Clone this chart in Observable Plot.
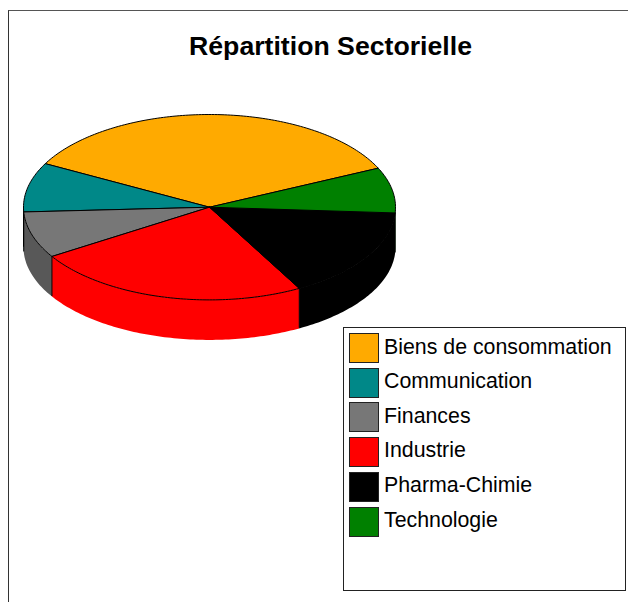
<!DOCTYPE html>
<html><head><meta charset="utf-8">
<script src="https://cdn.jsdelivr.net/npm/d3@7"></script>
<script src="https://cdn.jsdelivr.net/npm/@observablehq/plot@0.6"></script>
<style>
html,body{margin:0;padding:0;background:#fff;overflow:hidden}
#root{position:relative;width:628px;height:602px;overflow:hidden;font-family:"Liberation Sans",Arial,sans-serif;color:#000}
#frame{position:absolute;left:8px;top:10px;right:0;bottom:0;border-left:1px solid #333;border-top:1px solid #555;box-sizing:border-box}
#title{position:absolute;left:20px;width:621px;top:31px;text-align:center;font-size:26.67px;font-weight:bold;line-height:30px;margin:0}
#plot{position:absolute;left:0;top:0}
#legend{position:absolute;left:343px;top:327px;width:283px;height:264px;border:1px solid #222;box-sizing:border-box;background:#fff}
.sw{position:absolute;left:5px;width:30px;height:30px;border:1px solid #222;box-sizing:border-box}
.lb{position:absolute;left:40px;font-size:21.33px;line-height:24px;white-space:nowrap}
</style></head><body>
<div id="root"><div id="frame"></div><div id="plot"></div><h1 id="title">Répartition Sectorielle</h1><div id="legend"></div></div>
<script>
const sectors = ["Biens de consommation","Communication","Finances","Industrie","Pharma-Chimie","Technologie"];
const shares  = [35.3, 8.6, 8.1, 24.1, 16.0, 7.9];
const topColors  = ["#ffaa00","#008888","#777777","#ff0000","#000000","#008000"];
const sideColors = ["#aa7200","#005b5b","#585858","#ff0000","#000000","#005500"];
const startDeg = 24.9;
const depth = 0.4315;

const total = d3.sum(shares);
let acc = startDeg;
const slices = sectors.map((name,i)=>{const a0=acc; acc+=shares[i]/total*360; return {name,a0,a1:acc,i};});
const rad = d=>d*Math.PI/180;
const arc = (a0,a1)=>{const n=Math.max(2,Math.ceil((a1-a0)/1)); return d3.range(n+1).map(k=>{const t=rad(a0+(a1-a0)*k/n);return [Math.cos(t),Math.sin(t)];});};

const faces = [], sides = [], edges = [];
for(const s of slices){
  const pts=[[0,0],...arc(s.a0,s.a1),[0,0]];
  pts.forEach(p=>faces.push({name:s.name,x:p[0],y:p[1]}));
  for(const [lo,hi] of [[180,360],[540,720]]){
    const a0=Math.max(s.a0,lo),a1=Math.min(s.a1,hi);
    if(a1>a0){
      const r=arc(a0,a1);
      [...r,...r.slice().reverse().map(p=>[p[0],p[1]-depth])].forEach(p=>sides.push({key:s.name+"-wall",name:s.name,x:p[0],y:p[1]}));
      // wedge under the top face, so no seam shows along the rim
      [[0,0],...r,[0,0]].forEach(p=>sides.push({key:s.name+"-under",name:s.name,x:p[0],y:p[1]}));
    }
  }
}
for(const s of slices){
  const t=rad(s.a1), c=Math.cos(t), y=Math.sin(t);
  if(y<0) edges.push({x:c,y1:y,y2:y-depth});
}
edges.push({x:-1,y1:0,y2:-depth});

const chart = Plot.plot({
  width:628,height:602,margin:0,
  x:{domain:[-209/186,(628-209)/186],range:[0,628],axis:null},
  y:{domain:[206.7/92.7,(206.7-602)/92.7],range:[0,602],axis:null},
  color:{domain:sectors,range:topColors},
  style:{background:"transparent"},
  marks:[
    Plot.line(sides,{x:"x",y:"y",z:"key",fill:d=>sideColors[sectors.indexOf(d.name)],stroke:null,curve:"linear"}),
    Plot.ruleX(edges,{x:"x",y1:"y1",y2:"y2",stroke:"#000",strokeWidth:1}),
    Plot.line(faces,{x:"x",y:"y",z:"name",fill:"name",stroke:"#000",strokeWidth:1,curve:"linear",strokeLinejoin:"round"})
  ]
});
document.getElementById("plot").append(chart);

const legend=document.getElementById("legend");
sectors.forEach((name,i)=>{
  const sw=document.createElement("div");sw.className="sw";sw.style.top=(5+i*34.7)+"px";sw.style.background=topColors[i];legend.append(sw);
  const lb=document.createElement("div");lb.className="lb";lb.style.top=(6.5+i*34.6)+"px";lb.textContent=name;legend.append(lb);
});
</script></body></html>
